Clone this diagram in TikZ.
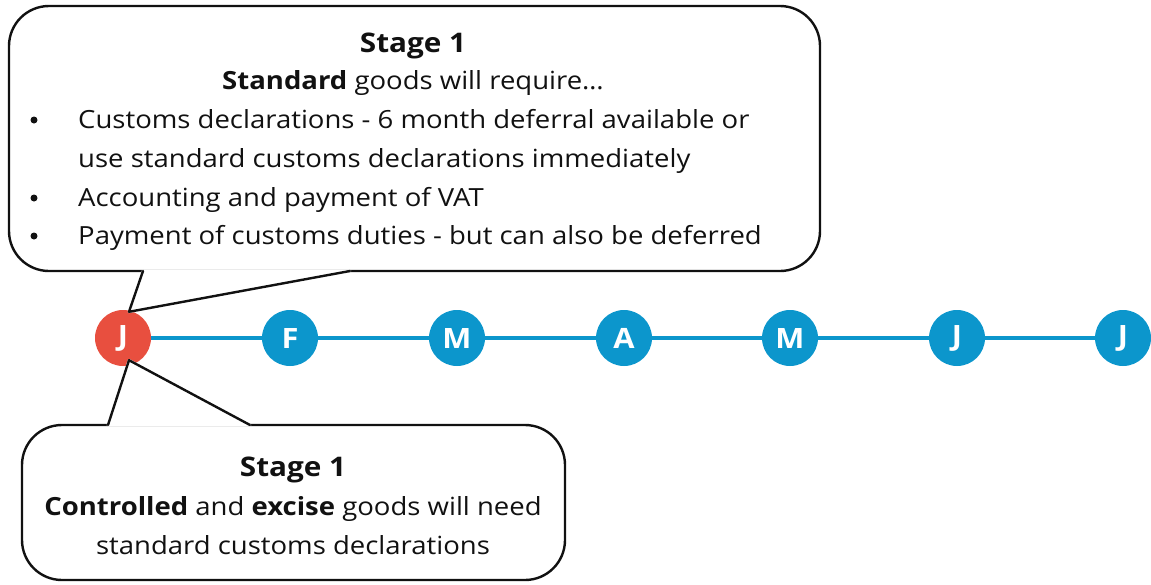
\documentclass[tikz,border=0pt]{standalone}
\usepackage{fontspec}
\setmainfont{Open Sans}[FakeStretch=1.1]
\usepackage{tikz}
\usetikzlibrary{positioning}
\definecolor{tlRed}{HTML}{E84F3F}
\definecolor{tlBlue}{HTML}{0C96CC}
\definecolor{tlInk}{HTML}{111111}
\tikzset{
  tl diagram/.style={x=1pt, y=-1pt, text=tlInk,
    font=\fontsize{25}{38}\selectfont, line cap=round, line join=round},
  tl month/.style={circle, fill=tlBlue, minimum size=56pt, inner sep=0pt,
    text=white, font=\fontsize{28}{28}\selectfont\bfseries},
  tl now/.style={tl month, fill=tlRed},
  tl line/.style={draw=tlBlue, line width=3.6pt},
  tl callout/.style={draw=tlInk, line width=2.4pt, fill=white, rounded corners=40pt},
  tl tail/.style={draw=tlInk, line width=2.4pt},
  tl gap/.style={fill=white, draw=white, line width=2.6pt},
  tl text/.style={anchor=base, inner sep=0pt},
  tl title/.style={tl text, font=\fontsize{27}{38}\selectfont\bfseries},
  tl item/.style={tl text, anchor=base west},
  tl bullet/.style={circle, fill=tlInk, inner sep=0pt, minimum size=7pt}
}
\begin{document}
\begin{tikzpicture}[tl diagram]
\useasboundingbox (0,0) rectangle (1151,584);

% timeline of months
\draw[tl line] (123,338) -- (1123,338);
\node[tl now] (m1) at (123,338) {J};
\foreach \i/\x/\lbl in {2/290/F,3/457/M,4/624/A,5/790/M,6/957/J,7/1123/J}{
  \node[tl month] (m\i) at (\x,338) {\lbl};
}

% callout tails point at the first month
\coordinate (top tip) at ([xshift=6pt,yshift=-2pt]m1.north);
\coordinate (low tip) at ([xshift=6pt,yshift=6pt]m1.south);

% upper callout
\draw[tl callout] (9,6) rectangle (820,271);
\path[tl gap] (143,271) -- (top tip) -- (350,271) -- cycle;
\draw[tl tail] (143,271) -- (top tip) -- (350,271);

% lower callout
\draw[tl callout] (22,425) rectangle (565,580);
\path[tl gap] (108,425) -- (low tip) -- (250,425) -- cycle;
\draw[tl tail] (108,425) -- (low tip) -- (250,425);

% upper callout text
\node[tl title] (top title) at (413,52) {Stage 1};
\node[tl text] (top lead) at (413,89) {\textbf{Standard} goods will require\ldots};
\foreach \n/\y/\txt in {1/128/{Customs declarations - 6 month deferral available or},
  2/167/{use standard customs declarations immediately},
  3/206/{Accounting and payment of VAT},
  4/244/{Payment of customs duties - but can also be deferred}}{
  \node[tl item] (top item\n) at (78,\y) {\txt};
}
\foreach \n/\y in {1/128,3/206,4/244}{
  \node[tl bullet] (dot\n) at (34,\y-8) {};
}

% lower callout text
\node[tl title] (low title) at (293,476) {Stage 1};
\node[tl text] (low line1) at (293,515) {\textbf{Controlled} and \textbf{excise} goods will need};
\node[tl text] (low line2) at (293,554) {standard customs declarations};
\end{tikzpicture}
\end{document}
